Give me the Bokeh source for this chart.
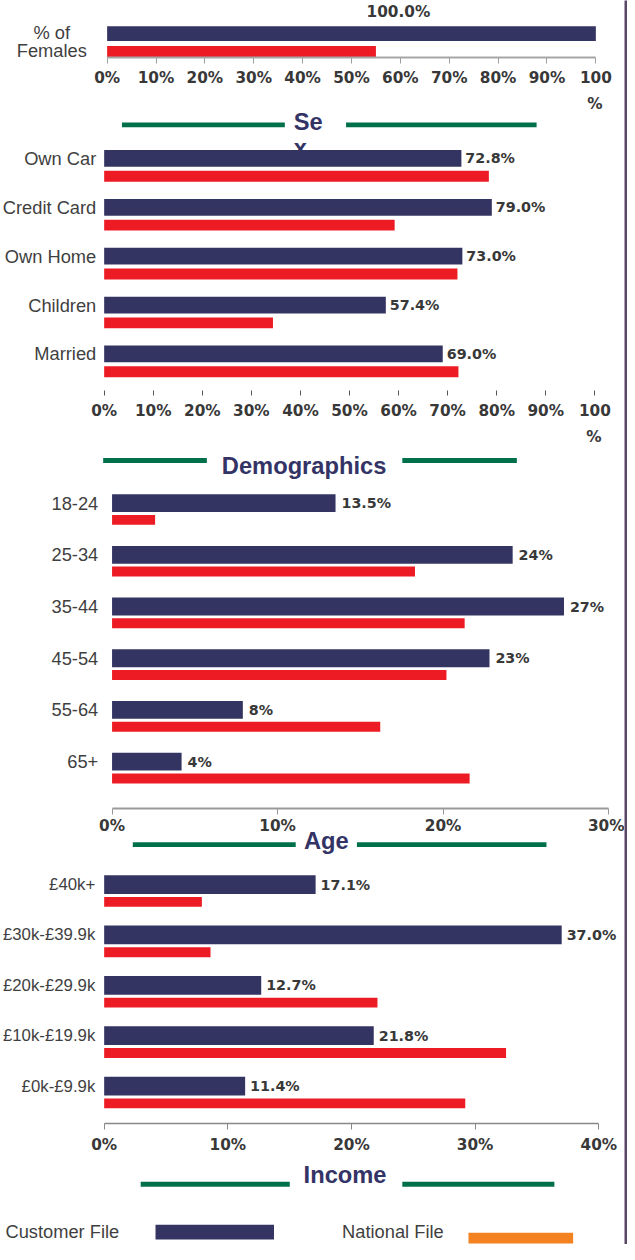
from bokeh.plotting import figure
from bokeh.models import Range1d, FixedTicker, ColumnDataSource
from bokeh.layouts import column, row
from bokeh.embed import file_html
from bokeh.resources import INLINE
from bokeh.core.properties import value

# ---------------- data ----------------
sex_categories = ["% of\nFemales"]
sex_customer = [100.0]
sex_national = [55.0]
sex_value_labels = ["100.0%"]

demo_categories = ["Own Car", "Credit Card", "Own Home", "Children", "Married"]
demo_customer = [72.8, 79.0, 73.0, 57.4, 69.0]
demo_national = [78.4, 59.2, 72.0, 34.4, 72.2]
demo_value_labels = ["72.8%", "79.0%", "73.0%", "57.4%", "69.0%"]

age_categories = ["18-24", "25-34", "35-44", "45-54", "55-64", "65+"]
age_customer = [13.5, 24.2, 27.3, 22.8, 7.9, 4.2]
age_national = [2.6, 18.3, 21.3, 20.2, 16.2, 21.6]
age_value_labels = ["13.5%", "24%", "27%", "23%", "8%", "4%"]

income_categories = ["£40k+", "£30k-£39.9k", "£20k-£29.9k", "£10k-£19.9k", "£0k-£9.9k"]
income_customer = [17.1, 37.0, 12.7, 21.8, 11.4]
income_national = [7.9, 8.6, 22.1, 32.5, 29.2]
income_value_labels = ["17.1%", "37.0%", "12.7%", "21.8%", "11.4%"]

# the last tick label of the 0-100 axes wraps: "100" on the axis, "%" on the line below
pct100_ticks = [0, 10, 20, 30, 40, 50, 60, 70, 80, 90, 100]
pct100_tick_labels = ["0%", "10%", "20%", "30%", "40%", "50%", "60%", "70%", "80%", "90%", "100"]
pct100_wrap = "%"
age_ticks = [0, 10, 20, 30]
age_tick_labels = ["0%", "10%", "20%", "30%"]
income_ticks = [0, 10, 20, 30, 40]
income_tick_labels = ["0%", "10%", "20%", "30%", "40%"]

section_titles = ["Se", "x", "Demographics", "Age", "Income"]
legend_labels = ["Customer File", "National File"]

# ---------------- styles ----------------
NAVY = "#343463"
RED = "#ed1c24"
ORANGE = "#f58220"
GREEN = "#00704a"
TITLE_NAVY = "#333366"
TEXT = "#3f3f3f"
VAL = "#383838"
PURPLE = "#5a4767"
SANS = "Liberation Sans"
BOLDF = "DejaVu Sans"

K = 1244 / 1260          # whole picture laid out in reference units scaled by K
W = round(632 * K)       # column width
BW = round(635 * K) - W  # right border width


def m(v):
    return v * K


def fs(px):
    return "%.1fpx" % (px * K)


TITLE_STYLE = dict(text_font=value(SANS), text_font_style="bold", text_font_size=fs(24),
                   text_color=TITLE_NAVY, text_baseline="middle")
WRAP_STYLE = dict(text_font=value(BOLDF), text_font_style="bold", text_font_size=fs(15.5),
                  text_color=VAL, text_baseline="middle", text_align="center")


def panel(categories, customer, national, value_labels, ticks, tick_labels, *,
          top, bottom, frame_bottom, x0, x1, xmax, first, step, navy_h, red_off, red_h,
          label_px, label_dy=0, label_align="right", label_lh=1.0, label_size=18.5,
          axis_line=None, axis_w=1,
          tick_color="#888888", tick_out=6, standoff=10, value_dx=5,
          above_label=None, deco_lines=(), deco_texts=(), transparent=False):
    top_px, bottom_px, fb_px = round(m(top)), round(m(bottom)), round(m(frame_bottom))
    pxper = (m(x1) - m(x0)) / xmax

    def to_data(px):
        return (px - m(x0)) / pxper

    extra = {}
    if transparent:
        extra = dict(background_fill_color=None, border_fill_color=None)
    p = figure(width=W, height=bottom_px - top_px,
               x_range=Range1d(to_data(0), to_data(W)),
               y_range=Range1d(-fb_px, -top_px),
               output_backend="svg", toolbar_location=None,
               y_axis_location=None,
               min_border_left=0, min_border_right=0,
               min_border_top=0, min_border_bottom=bottom_px - fb_px, **extra)

    # decorations above the bars: previous section's title, its green rules, wrapped "%"
    for (a, b, y) in deco_lines:
        p.quad(left=[to_data(m(a))], right=[to_data(m(b))],
               top=[-m(y - 2.5)], bottom=[-m(y + 2.5)], fill_color=GREEN, line_color=None)
    for (t, x, y, style, align) in deco_texts:
        st = dict(style)
        st["text_align"] = align
        p.text(x=[to_data(m(x))], y=[-m(y)], text=[t], **st)

    centers = [first + i * step for i in range(len(categories))]
    src = ColumnDataSource(dict(
        cat=categories, cust=customer, nat=national, lab=value_labels,
        yn=[-m(c) for c in centers], yr=[-m(c + red_off) for c in centers],
        yl=[-m(c + label_dy) for c in centers],
        lx=[to_data(m(label_px))] * len(categories)))
    p.hbar(y="yn", left=0, right="cust", height=m(navy_h), source=src,
           fill_color=NAVY, line_color=None)
    p.hbar(y="yr", left=0, right="nat", height=m(red_h), source=src,
           fill_color=RED, line_color=None)
    p.text(x="lx", y="yl", text="cat", source=src, text_align=label_align,
           text_baseline="middle", text_font=value(SANS), text_font_size=fs(label_size),
           text_color=TEXT, text_line_height=label_lh)
    if above_label is None:
        p.text(x="cust", y="yn", text="lab", source=src, x_offset=m(value_dx),
               text_align="left", text_baseline="middle", text_font=value(BOLDF),
               text_font_style="bold", text_font_size=fs(14.5), text_color=VAL)
    else:
        ax, ay = above_label
        p.text(x=[to_data(m(ax))], y=[-m(ay)], text=value_labels, text_align="center",
               text_baseline="middle", text_font=value(BOLDF),
               text_font_style="bold", text_font_size=fs(15.5), text_color=VAL)

    xa = p.xaxis[0]
    xa.ticker = FixedTicker(ticks=ticks, minor_ticks=[])
    xa.bounds = (0, xmax)
    xa.major_label_overrides = {t: l for t, l in zip(ticks, tick_labels)}
    xa.major_label_text_font = BOLDF
    xa.major_label_text_font_style = "bold"
    xa.major_label_text_font_size = fs(15.5)
    xa.major_label_text_color = VAL
    xa.axis_line_color = axis_line
    xa.axis_line_width = axis_w
    xa.major_tick_line_color = tick_color
    xa.major_tick_line_width = 1
    xa.major_tick_in = 0
    xa.major_tick_out = tick_out
    xa.minor_tick_line_color = None
    xa.major_label_standoff = standoff
    p.grid.visible = False
    p.outline_line_color = None
    return p


# ---------- Sex ----------
pA = panel(sex_categories, sex_customer, sex_national, sex_value_labels,
           pct100_ticks, pct100_tick_labels,
           top=0, bottom=94, frame_bottom=58, x0=108, x1=603, xmax=100,
           first=33.5, step=0, navy_h=15, red_off=18.5, red_h=12,
           label_px=52, label_dy=8, label_align="center", label_lh=0.85,
           axis_line="#a6a6a6", axis_w=2, tick_color="#a0a0a0", tick_out=6, standoff=5,
           above_label=(403, 12))

# ---------- Demographics (with the "Sex" section title above it) ----------
pB = panel(demo_categories, demo_customer, demo_national, demo_value_labels,
           pct100_ticks, pct100_tick_labels,
           top=94, bottom=430, frame_bottom=395, x0=105, x1=602, xmax=100,
           first=160, step=49.5, navy_h=17, red_off=18, red_h=11,
           label_px=97, axis_line=None, tick_color="#555555", tick_out=5, standoff=6,
           value_dx=4,
           deco_lines=[(123, 288, 126), (350, 543, 126)],
           deco_texts=[(pct100_wrap, 602, 105, WRAP_STYLE, "center"),
                       (section_titles[0], 297, 123, TITLE_STYLE, "left"),
                       (section_titles[1], 297, 149, TITLE_STYLE, "left")])

# ---------- Age (with the "Demographics" title above it) ----------
C_BOTTOM = 849
pC = panel(age_categories, age_customer, age_national, age_value_labels,
           age_ticks, age_tick_labels,
           top=430, bottom=C_BOTTOM, frame_bottom=818, x0=113, x1=616, xmax=30,
           first=509, step=52.4, navy_h=18, red_off=17, red_h=10,
           label_px=99, axis_line="#999999", axis_w=2, tick_color="#999999",
           tick_out=6, standoff=2, value_dx=6,
           deco_lines=[(104, 209, 466), (407, 523, 466)],
           deco_texts=[(pct100_wrap, 601, 442, WRAP_STYLE, "center"),
                       (section_titles[2], 307.5, 471.5, TITLE_STYLE, "center")])

# ---------- Income (with the "Age" title above it) ----------
# its transparent canvas starts a little above the end of the Age canvas so that
# the "Age" title can sit beside the Age tick labels, as in the reference
D_TOP = 834
pD = panel(income_categories, income_customer, income_national, income_value_labels,
           income_ticks, income_tick_labels,
           top=D_TOP, bottom=1173, frame_bottom=1137, x0=105, x1=606, xmax=40,
           first=895.5, step=51, navy_h=19, red_off=17.5, red_h=10,
           label_px=96, label_size=17, axis_line="#888888", axis_w=1.5, tick_color="#888888",
           tick_out=6, standoff=6, value_dx=5, transparent=True,
           deco_lines=[(134, 299, 855), (361, 553, 855)],
           deco_texts=[(section_titles[3], 330, 851, TITLE_STYLE, "center")])
pD.margin = (round(m(D_TOP)) - round(m(C_BOTTOM)), 0, 0, 0)

# ---------- Income title + legend ----------
e_top, e_bottom = round(m(1173)), round(m(1260))
pE = figure(width=W, height=e_bottom - e_top,
            x_range=Range1d(0, W), y_range=Range1d(e_bottom, e_top),
            output_backend="svg", toolbar_location=None,
            x_axis_location=None, y_axis_location=None,
            min_border_left=0, min_border_right=0, min_border_top=0, min_border_bottom=0)
pE.grid.visible = False
pE.outline_line_color = None
for (a, b) in [(142, 293), (407, 561)]:
    pE.quad(left=[m(a)], right=[m(b)], top=[m(1196.5)], bottom=[m(1201.5)],
            fill_color=GREEN, line_color=None)
pE.text(x=[m(349)], y=[m(1190)], text=[section_titles[4]], text_align="center", **TITLE_STYLE)
pE.text(x=[m(5), m(346)], y=[m(1247), m(1247)], text=legend_labels, text_align="left",
        text_baseline="middle", text_font=value(SANS), text_font_size=fs(18.5),
        text_color=TEXT)
pE.quad(left=[m(157)], right=[m(277)], top=[m(1240)], bottom=[m(1255)],
        fill_color=NAVY, line_color=None)
pE.quad(left=[m(474)], right=[m(580)], top=[m(1248)], bottom=[m(1259)],
        fill_color=ORANGE, line_color=None)

# ---------- right border ----------
border = figure(width=BW, height=round(m(1260)), output_backend="svg", toolbar_location=None,
                x_axis_location=None, y_axis_location=None,
                min_border_left=0, min_border_right=0, min_border_top=0, min_border_bottom=0,
                background_fill_color=PURPLE, border_fill_color=PURPLE,
                x_range=Range1d(0, 1), y_range=Range1d(0, 1))
border.grid.visible = False
border.outline_line_color = None

layout = row(column(pA, pB, pC, pD, pE, spacing=0), border, spacing=0)

open("out.html", "w").write(file_html(layout, INLINE))
